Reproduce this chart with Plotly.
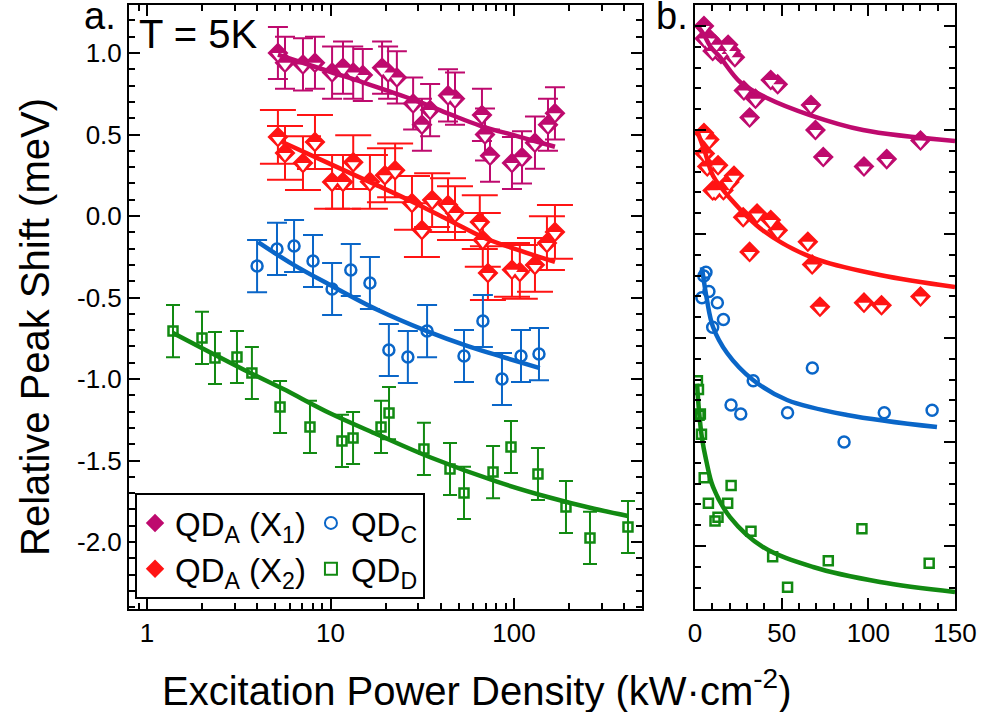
import plotly.graph_objects as go

# ---------------- colours ----------------
C_X1 = "#BE0A6E"
C_X2 = "#FF1414"
C_C = "#0A66C8"
C_D = "#128A12"

# ---------------- data (power density kW/cm^2, relative peak shift meV) ----------------
X1_P = [5.17, 5.65, 7.08, 8.23, 10.2, 11.7, 13.3, 15.0, 19.1, 20.6, 23.0, 28.2, 31.5, 34.9,
        43.7, 47.7, 66.9, 69.5, 74.0, 97.5, 110.6, 130.1, 153.2, 167.2]
X1_S = [1.00, 0.94, 0.93, 0.94, 0.88, 0.91, 0.88, 0.865, 0.91, 0.88, 0.85, 0.69, 0.56, 0.65,
        0.74, 0.72, 0.62, 0.50, 0.37, 0.325, 0.36, 0.45, 0.56, 0.63]

X2_P = [5.17, 5.65, 7.08, 8.23, 10.2, 11.7, 13.3, 16.4, 19.8, 22.5, 27.8, 31.5, 35.8, 43.7,
        47.7, 65.1, 67.6, 72.1, 97.5, 107.6, 130.1, 151.2, 167.2]
X2_S = [0.485, 0.387, 0.325, 0.454, 0.209, 0.209, 0.33, 0.21, 0.25, 0.28, 0.08, -0.086, 0.098,
        0.067, 0.018, -0.037, -0.147, -0.35, -0.33, -0.343, -0.30, -0.166, -0.098]

QC_P = [3.98, 5.11, 6.33, 8.03, 10.2, 12.9, 16.4, 20.8, 26.4, 33.6, 53.4, 67.7, 86.0, 109.2, 136.8]
QC_S = [-0.307, -0.202, -0.184, -0.276, -0.448, -0.331, -0.411, -0.822, -0.865, -0.706, -0.859,
        -0.644, -1.0, -0.859, -0.847]

QD_P = [1.386, 1.994, 2.347, 3.093, 3.73, 5.31, 7.73, 11.55, 13.27, 18.85, 20.84, 32.3, 44.8,
        53.4, 76.9, 96.3, 135.1, 192.0, 259.5, 418.0]
QD_S = [-0.706, -0.748, -0.871, -0.865, -0.963, -1.172, -1.294, -1.380, -1.362, -1.294, -1.209,
        -1.429, -1.552, -1.699, -1.571, -1.417, -1.583, -1.785, -1.975, -1.908]

ERR_X1 = 0.16
ERR_X2 = 0.165
ERR_C = 0.16
ERR_D = 0.16

# ---------------- fitted curves ----------------
FA_X1_P = [5.17, 9.94, 15.0, 28.1, 44.6, 65.1, 103.8, 167.2]
FA_X1_S = [0.99, 0.885, 0.82, 0.715, 0.625, 0.555, 0.49, 0.425]
FA_X2_P = [5.45, 9.94, 17.0, 27.0, 45.0, 67.6, 100.0, 167.2]
FA_X2_S = [0.454, 0.32, 0.20, 0.095, -0.03, -0.13, -0.20, -0.282]
FA_C_P = [4.03, 6.3, 9.94, 18.0, 33.5, 55.0, 86.9, 138.2]
FA_C_S = [-0.16, -0.30, -0.423, -0.575, -0.706, -0.795, -0.865, -0.933]
FA_D_P = [1.386, 3.33, 5.5, 9.94, 18.0, 34.9, 80.7, 160.0, 259.5, 418.0]
FA_D_S = [-0.718, -0.94, -1.06, -1.21, -1.34, -1.48, -1.63, -1.73, -1.79, -1.84]

FB_X1_P = [1.5, 5.0, 9.0, 14.4, 26.0, 41.5, 66.3, 96.9, 150.0]
FB_X1_S = [1.0, 0.96, 0.90, 0.851, 0.731, 0.654, 0.572, 0.50, 0.447]
FB_X2_P = [1.5, 5.5, 10.4, 20.2, 39.2, 68.1, 106.7, 150.0]
FB_X2_S = [0.49, 0.40, 0.28, 0.172, 0.017, -0.115, -0.197, -0.255]
FB_C_P = [4.0, 6.9, 10.4, 18.5, 33.5, 53.1, 87.7, 139.6]
FB_C_S = [-0.16, -0.317, -0.447, -0.572, -0.702, -0.798, -0.870, -0.928]
FB_D_P = [1.2, 2.3, 4.0, 6.5, 10.4, 20.2, 39.2, 68.1, 106.7, 150.0]
FB_D_S = [-0.72, -0.85, -0.98, -1.09, -1.216, -1.361, -1.505, -1.601, -1.673, -1.721]

# ---------------- ticks / ranges ----------------
YA_TICKS = [1.0, 0.5, 0.0, -0.5, -1.0, -1.5, -2.0]
XA_TICKS = [1, 10, 100]
XA_MINOR = [0.8, 0.9, 2, 3, 4, 5, 6, 7, 8, 9, 20, 30, 40, 50, 60, 70, 80, 90, 200, 300, 400]
XB_TICKS = [0, 50, 100, 150]
XB_MAX = 150

FONT = "Liberation Sans, Arial, sans-serif"

fig = go.Figure()


def clip_b(px, s):
    keep = [i for i, v in enumerate(px) if v <= XB_MAX]
    return [px[i] for i in keep], [s[i] for i in keep]


def half_diamond(px, s, color, err, capw, xa, ya, name, show, group):
    ey = dict(type="constant", value=err, color=color, thickness=2, width=capw) if err else None
    fig.add_trace(go.Scatter(
        x=px, y=s, mode="markers", name=name, showlegend=show, legendgroup=group,
        xaxis=xa, yaxis=ya, error_y=ey,
        marker=dict(symbol="diamond", size=14, color=color, line=dict(color=color, width=2)),
    ))
    fig.add_trace(go.Scatter(
        x=px, y=s, mode="markers", showlegend=False, hoverinfo="skip", xaxis=xa, yaxis=ya,
        marker=dict(symbol="triangle-down", size=10, color="white", line=dict(width=0), standoff=2.5),
    ))


def open_marker(px, s, color, symbol, size, err, capw, xa, ya, name, show, group):
    ey = dict(type="constant", value=err, color=color, thickness=2, width=capw) if err else None
    fig.add_trace(go.Scatter(
        x=px, y=s, mode="markers", name=name, showlegend=show, legendgroup=group,
        xaxis=xa, yaxis=ya, error_y=ey,
        marker=dict(symbol=symbol, size=size, color=color, line=dict(color=color, width=2.5)),
    ))


def fit_line(px, s, color, xa, ya):
    fig.add_trace(go.Scatter(
        x=px, y=s, mode="lines", showlegend=False, hoverinfo="skip", xaxis=xa, yaxis=ya,
        line=dict(color=color, width=4.5, shape="spline"),
    ))


# panel a
half_diamond(X1_P, X1_S, C_X1, ERR_X1, 10, "x", "y", "QD<sub>A</sub> (X<sub>1</sub>)", True, "A")
half_diamond(X2_P, X2_S, C_X2, ERR_X2, 18, "x", "y", "QD<sub>A</sub> (X<sub>2</sub>)", True, "A")
open_marker(QC_P, QC_S, C_C, "circle-open", 11, ERR_C, 10, "x", "y", "QD<sub>C</sub>", True, "B")
open_marker(QD_P, QD_S, C_D, "square-open", 9, ERR_D, 7, "x", "y", "QD<sub>D</sub>", True, "B")
fit_line(FA_X1_P, FA_X1_S, C_X1, "x", "y")
fit_line(FA_X2_P, FA_X2_S, C_X2, "x", "y")
fit_line(FA_C_P, FA_C_S, C_C, "x", "y")
fit_line(FA_D_P, FA_D_S, C_D, "x", "y")

# panel b (same data, linear power axis up to 150)
half_diamond(*clip_b(X1_P, X1_S), C_X1, None, 0, "x2", "y2", "", False, "A")
half_diamond(*clip_b(X2_P, X2_S), C_X2, None, 0, "x2", "y2", "", False, "A")
open_marker(*clip_b(QC_P, QC_S), C_C, "circle-open", 11, None, 0, "x2", "y2", "", False, "B")
open_marker(*clip_b(QD_P, QD_S), C_D, "square-open", 9, None, 0, "x2", "y2", "", False, "B")
fit_line(FB_X1_P, FB_X1_S, C_X1, "x2", "y2")
fit_line(FB_X2_P, FB_X2_S, C_X2, "x2", "y2")
fit_line(FB_C_P, FB_C_S, C_C, "x2", "y2")
fit_line(FB_D_P, FB_D_S, C_D, "x2", "y2")

axis_common = dict(
    showline=True, linecolor="black", linewidth=2, mirror="ticks",
    ticks="inside", ticklen=11, tickwidth=2, tickcolor="black",
    showgrid=False, zeroline=False,
    tickfont=dict(family=FONT, size=26, color="black"),
)

fig.update_layout(
    width=984, height=712,
    margin=dict(l=129, r=29, t=5, b=103, autoexpand=False),
    paper_bgcolor="white", plot_bgcolor="white",
    font=dict(family=FONT, color="black"),
    xaxis=dict(
        axis_common, domain=[0, 0.62107], type="log", range=[-0.0981, 2.6976], anchor="y",
        tickvals=XA_TICKS, ticktext=[str(v) for v in XA_TICKS],
        minor=dict(tickvals=XA_MINOR, ticks="inside", ticklen=6, tickwidth=2, tickcolor="black"),
    ),
    yaxis=dict(
        axis_common, domain=[0, 1], range=[-2.411, 1.2945], anchor="x",
        tickvals=YA_TICKS, ticktext=[f"{v:.1f}" for v in YA_TICKS],
        minor=dict(dtick=0.1, tick0=0, ticks="inside", ticklen=6, tickwidth=2, tickcolor="black"),
    ),
    xaxis2=dict(
        axis_common, domain=[0.68523, 1], range=[0, XB_MAX], anchor="y2",
        tickvals=XB_TICKS, ticktext=[str(v) for v in XB_TICKS],
        minor=dict(dtick=10, tick0=0, ticks="inside", ticklen=6, tickwidth=2, tickcolor="black"),
    ),
    yaxis2=dict(
        axis_common, domain=[0, 1], range=[-1.803, 1.101], anchor="x2", showticklabels=False,
        dtick=0.5, tick0=0,
        minor=dict(dtick=0.1, tick0=0, ticks="inside", ticklen=6, tickwidth=2, tickcolor="black"),
    ),
    legend=dict(
        orientation="h", traceorder="grouped", x=0.0073, xanchor="left", y=0.0166, yanchor="bottom",
        bgcolor="white", bordercolor="black", borderwidth=2,
        font=dict(family=FONT, size=33, color="black"),
        tracegroupgap=0, itemsizing="constant",
    ),
    showlegend=True,
)

ann = [
    dict(text="a.", x=-0.0133, y=0.9822, xanchor="right", yanchor="middle", size=38),
    dict(text="b.", x=0.6792, y=0.9822, xanchor="right", yanchor="middle", size=38),
    dict(text="T = 5K", x=0.0097, y=0.952, xanchor="left", yanchor="middle", size=40),
    dict(text="Excitation Power Density (kW·cm<sup>-2</sup>)", x=0.4201, y=-0.131,
         xanchor="center", yanchor="middle", size=40),
]
for a in ann:
    fig.add_annotation(text=a["text"], x=a["x"], y=a["y"], xref="paper", yref="paper",
                       xanchor=a["xanchor"], yanchor=a["yanchor"], showarrow=False,
                       font=dict(family=FONT, size=a["size"], color="black"))
fig.add_annotation(text="Relative Peak Shift (meV)", x=-0.1138, y=0.4669, xref="paper", yref="paper",
                   xanchor="center", yanchor="middle", textangle=-90, showarrow=False,
                   font=dict(family=FONT, size=40, color="black"))

fig.write_html("out.html")
